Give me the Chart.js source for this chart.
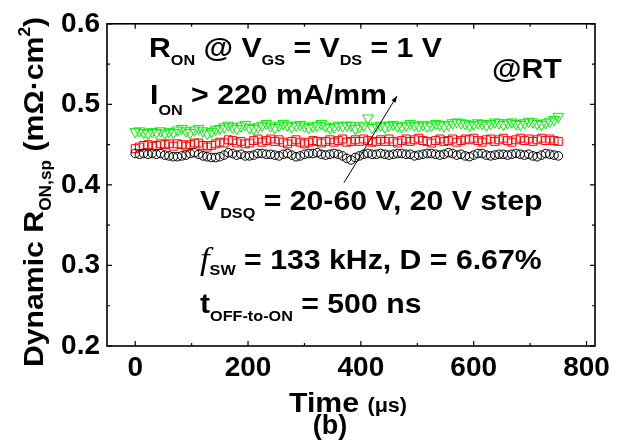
<!DOCTYPE html>
<html>
<head>
<meta charset="utf-8">
<script src="https://cdn.jsdelivr.net/npm/chart.js@4.4.1/dist/chart.umd.min.js"></script>
<style>
  html, body { margin: 0; padding: 0; background: #fff; }
  canvas { display: block; }
</style>
</head>
<body>
<canvas id="chart" width="631" height="445"></canvas>
<script>
// Dynamic R_ON,sp vs time, three V_DSQ levels (20/40/60 V), one point per switching period (7.5 us)
const timeUs = [
    0, 7.5, 15, 22.5, 30, 37.5, 45, 52.5, 60, 67.5,
    75, 82.5, 90, 97.5, 105, 112.5, 120, 127.5, 135, 142.5,
    150, 157.5, 165, 172.5, 180, 187.5, 195, 202.5, 210, 217.5,
    225, 232.5, 240, 247.5, 255, 262.5, 270, 277.5, 285, 292.5,
    300, 307.5, 315, 322.5, 330, 337.5, 345, 352.5, 360, 367.5,
    375, 382.5, 390, 397.5, 405, 412.5, 420, 427.5, 435, 442.5,
    450, 457.5, 465, 472.5, 480, 487.5, 495, 502.5, 510, 517.5,
    525, 532.5, 540, 547.5, 555, 562.5, 570, 577.5, 585, 592.5,
    600, 607.5, 615, 622.5, 630, 637.5, 645, 652.5, 660, 667.5,
    675, 682.5, 690, 697.5, 705, 712.5, 720, 727.5, 735, 742.5, 750,
];

const ron20V = [
    0.439, 0.438, 0.439, 0.438, 0.439, 0.438, 0.439, 0.437, 0.436, 0.435,
    0.435, 0.436, 0.437, 0.439, 0.440, 0.438, 0.436, 0.435, 0.434, 0.434,
    0.435, 0.437, 0.440, 0.439, 0.437, 0.438, 0.436, 0.436, 0.437, 0.439,
    0.439, 0.438, 0.438, 0.437, 0.436, 0.438, 0.439, 0.437, 0.435, 0.436,
    0.438, 0.439, 0.439, 0.440, 0.438, 0.437, 0.438, 0.439, 0.438, 0.436,
    0.433, 0.431, 0.434, 0.436, 0.438, 0.439, 0.438, 0.438, 0.439, 0.438,
    0.437, 0.438, 0.439, 0.439, 0.438, 0.438, 0.436, 0.437, 0.438, 0.439,
    0.439, 0.438, 0.437, 0.438, 0.440, 0.439, 0.437, 0.438, 0.436, 0.435,
    0.437, 0.439, 0.439, 0.437, 0.436, 0.437, 0.438, 0.438, 0.437, 0.438,
    0.439, 0.438, 0.437, 0.438, 0.436, 0.435, 0.437, 0.439, 0.438, 0.437, 0.436,
];

const ron40V = [
    0.445, 0.447, 0.449, 0.450, 0.448, 0.449, 0.451, 0.450, 0.451, 0.448,
    0.451, 0.450, 0.448, 0.450, 0.452, 0.452, 0.449, 0.447, 0.449, 0.451,
    0.453, 0.452, 0.456, 0.455, 0.452, 0.454, 0.451, 0.452, 0.455, 0.457,
    0.453, 0.455, 0.457, 0.454, 0.456, 0.453, 0.451, 0.454, 0.456, 0.453,
    0.451, 0.453, 0.455, 0.454, 0.452, 0.454, 0.456, 0.453, 0.455, 0.457,
    0.453, 0.454, 0.456, 0.454, 0.457, 0.455, 0.453, 0.454, 0.456, 0.454,
    0.457, 0.454, 0.452, 0.455, 0.457, 0.454, 0.456, 0.458, 0.455, 0.454,
    0.452, 0.455, 0.457, 0.454, 0.455, 0.457, 0.453, 0.455, 0.457, 0.456,
    0.458, 0.455, 0.453, 0.456, 0.457, 0.454, 0.456, 0.458, 0.455, 0.453,
    0.456, 0.458, 0.455, 0.457, 0.454, 0.456, 0.458, 0.455, 0.457, 0.455, 0.454,
];

const ron60V = [
    0.466, 0.467, 0.465, 0.464, 0.466, 0.465, 0.467, 0.464, 0.466, 0.465,
    0.468, 0.470, 0.467, 0.465, 0.468, 0.470, 0.467, 0.464, 0.466, 0.469,
    0.470, 0.472, 0.474, 0.472, 0.470, 0.473, 0.475, 0.471, 0.470, 0.472,
    0.474, 0.476, 0.473, 0.471, 0.474, 0.476, 0.474, 0.472, 0.474, 0.475,
    0.473, 0.471, 0.473, 0.474, 0.476, 0.473, 0.471, 0.472, 0.474, 0.473,
    0.474, 0.474, 0.470, 0.472, 0.474, 0.483, 0.471, 0.473, 0.474, 0.472,
    0.474, 0.475, 0.473, 0.472, 0.474, 0.476, 0.474, 0.473, 0.475, 0.473,
    0.474, 0.476, 0.475, 0.473, 0.475, 0.477, 0.478, 0.477, 0.476, 0.474,
    0.475, 0.477, 0.476, 0.474, 0.476, 0.478, 0.477, 0.475, 0.477, 0.478,
    0.476, 0.475, 0.477, 0.479, 0.478, 0.476, 0.475, 0.477, 0.479, 0.481, 0.485,
];

const xTicks = [0, 200, 400, 600, 800];
const yTicks = [0.2, 0.3, 0.4, 0.5, 0.6];
const xMinorTicks = [100, 300, 500, 700];
const yMinorTicks = [0.25, 0.35, 0.45, 0.55];

const FAMILY = '"Liberation Sans", Arial, sans-serif';
const BOLD = `bold 28px ${FAMILY}`;
const SUB = `bold 15px ${FAMILY}`;
const STRETCH = 1.08; // the source lettering is a bit wider than Arial

function points(ys) {
    return ys.map((y, i) => ({ x: timeUs[i], y }));
}

// draw a row of text pieces: [text, font, baseline offset], slightly stretched
function drawRuns(ctx, x, y, runs) {
    ctx.save();
    ctx.translate(x, y);
    ctx.scale(STRETCH, 1);
    let cx = 0;
    runs.forEach(([text, font, dy]) => {
        ctx.font = font;
        ctx.fillText(text, cx, dy || 0);
        cx += ctx.measureText(text).width;
    });
    ctx.restore();
}

function runsWidth(ctx, runs) {
    let w = 0;
    runs.forEach(([text, font]) => {
        ctx.font = font;
        w += ctx.measureText(text).width;
    });
    return w * STRETCH;
}

const frameAndText = {
    id: 'frameAndText',
    afterDraw(chart) {
        const { ctx, chartArea: a, scales } = chart;
        const xs = scales.x, ys = scales.y;
        ctx.save();
        ctx.strokeStyle = '#000';
        ctx.fillStyle = '#000';

        // frame
        ctx.lineWidth = 1.6;
        ctx.strokeRect(a.left, a.top, a.right - a.left, a.bottom - a.top);

        // inward ticks on all four sides
        ctx.lineWidth = 1.2;
        ctx.beginPath();
        const tickX = (v, len) => {
            const p = xs.getPixelForValue(v);
            ctx.moveTo(p, a.bottom); ctx.lineTo(p, a.bottom - len);
            ctx.moveTo(p, a.top); ctx.lineTo(p, a.top + len);
        };
        const tickY = (v, len) => {
            const p = ys.getPixelForValue(v);
            ctx.moveTo(a.left, p); ctx.lineTo(a.left + len, p);
            ctx.moveTo(a.right, p); ctx.lineTo(a.right - len, p);
        };
        xTicks.forEach((v) => tickX(v, 5));
        xMinorTicks.forEach((v) => tickX(v, 3));
        yTicks.forEach((v) => tickY(v, 5));
        yMinorTicks.forEach((v) => tickY(v, 3));
        ctx.stroke();

        // arrow across the three series (increasing V_DSQ)
        const ax0 = xs.getPixelForValue(370), ay0 = ys.getPixelForValue(0.4027);
        const ax1 = xs.getPixelForValue(464), ay1 = ys.getPixelForValue(0.5104);
        ctx.lineWidth = 1;
        ctx.beginPath();
        ctx.moveTo(ax0, ay0);
        ctx.lineTo(ax1, ay1);
        ctx.stroke();
        const ang = Math.atan2(ay1 - ay0, ax1 - ax0);
        ctx.beginPath();
        ctx.moveTo(ax1, ay1);
        ctx.lineTo(ax1 - 7 * Math.cos(ang - 0.35), ay1 - 7 * Math.sin(ang - 0.35));
        ctx.lineTo(ax1 - 7 * Math.cos(ang + 0.35), ay1 - 7 * Math.sin(ang + 0.35));
        ctx.closePath();
        ctx.fill();

        // annotations
        ctx.textAlign = 'left';
        ctx.textBaseline = 'alphabetic';
        drawRuns(ctx, 149, 57, [
            ['R', BOLD], ['ON', SUB, 8], [' @ V', BOLD], ['GS', SUB, 8],
            [' = V', BOLD], ['DS', SUB, 8], [' = 1 V', BOLD],
        ]);
        drawRuns(ctx, 150, 104, [['I', BOLD], ['ON', SUB, 11], [' > 220 mA/mm', BOLD]]);
        drawRuns(ctx, 492, 78, [['@RT', BOLD]]);
        drawRuns(ctx, 200, 210, [['V', BOLD], ['DSQ', SUB, 8], [' = 20-60 V, 20 V step', BOLD]]);
        drawRuns(ctx, 200, 269, [
            ['f', 'italic 32px "Liberation Serif", "Times New Roman", serif'],
            ['SW', SUB, 6], [' = 133 kHz, D = 6.67%', BOLD],
        ]);
        drawRuns(ctx, 200, 313, [['t', BOLD], ['OFF-to-ON', SUB, 8], [' = 500 ns', BOLD]]);

        // x axis title
        drawRuns(ctx, 289, 412, [['Time ', BOLD], ['(μs)', `bold 20px ${FAMILY}`]]);
        ctx.textAlign = 'center';
        ctx.font = `bold 27px ${FAMILY}`;
        ctx.fillText('(b)', 330, 434);

        // y axis title, rotated
        ctx.textAlign = 'left';
        const yRuns = [
            ['Dynamic R', BOLD], ['ON,sp', `bold 16px ${FAMILY}`, 8],
            [' (mΩ·cm', BOLD], ['2', `bold 16px ${FAMILY}`, -13], [')', BOLD],
        ];
        const w = runsWidth(ctx, yRuns);
        ctx.translate(43, 192);
        ctx.rotate(-Math.PI / 2);
        drawRuns(ctx, -w / 2, 0, yRuns);
        ctx.restore();
    },
};

new Chart(document.getElementById('chart'), {
    type: 'scatter',
    data: {
        datasets: [
            {
                label: '20 V',
                data: points(ron20V),
                pointStyle: 'circle',
                pointRadius: 4.3,
                borderColor: '#000',
                backgroundColor: 'rgba(0,0,0,0)',
                borderWidth: 1,
            },
            {
                label: '40 V',
                data: points(ron40V),
                pointStyle: 'rect',
                pointRadius: 5.6,
                borderColor: '#ff0000',
                backgroundColor: 'rgba(0,0,0,0)',
                borderWidth: 1,
            },
            {
                label: '60 V',
                data: points(ron60V),
                pointStyle: 'triangle',
                rotation: 180,
                pointRadius: 6.2,
                borderColor: '#00f000',
                backgroundColor: 'rgba(0,0,0,0)',
                borderWidth: 1,
            },
        ],
    },
    options: {
        responsive: false,
        animation: false,
        devicePixelRatio: 1,
        layout: { padding: { left: 0, top: 22, right: 36, bottom: 0 } },
        scales: {
            x: {
                type: 'linear',
                min: -50,
                max: 815,
                afterFit: (s) => { s.height = 99; },
                afterBuildTicks: (s) => { s.ticks = xTicks.map((value) => ({ value })); },
                grid: { display: false, drawTicks: false },
                border: { display: false },
                ticks: {
                    color: '#000',
                    padding: 5,
                    font: { family: FAMILY, size: 28, weight: 'bold' },
                },
            },
            y: {
                type: 'linear',
                min: 0.2,
                max: 0.6,
                afterFit: (s) => { s.width = 107; },
                afterBuildTicks: (s) => { s.ticks = yTicks.map((value) => ({ value })); },
                grid: { display: false, drawTicks: false },
                border: { display: false },
                ticks: {
                    color: '#000',
                    padding: 7,
                    callback: (v) => v.toFixed(1),
                    font: { family: FAMILY, size: 28, weight: 'bold' },
                },
            },
        },
        plugins: {
            legend: { display: false },
            tooltip: { enabled: false },
        },
    },
    plugins: [frameAndText],
});
</script>
</body>
</html>
